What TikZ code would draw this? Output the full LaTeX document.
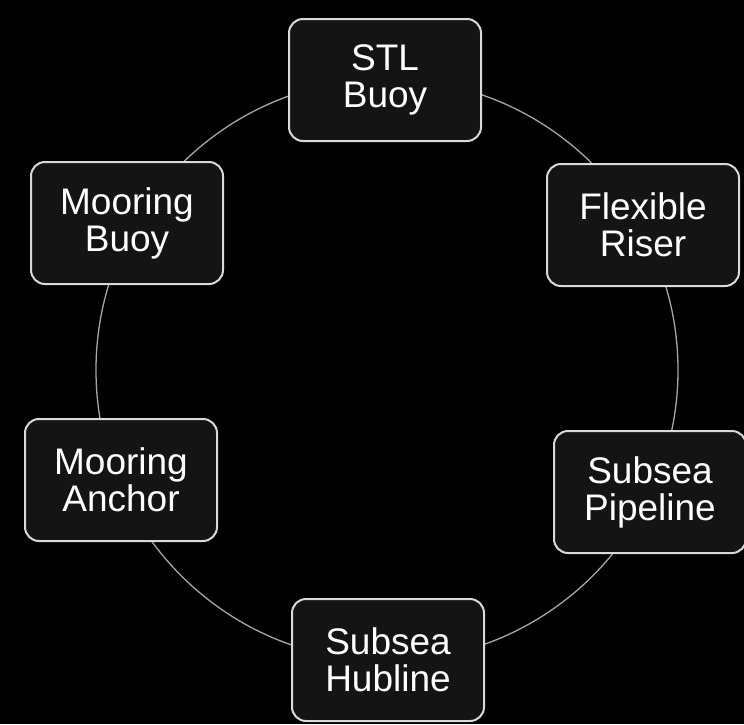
\documentclass[tikz,border=0pt]{standalone}
\usepackage{fontspec}
\setmainfont{Liberation Sans}
\begin{document}
\begin{tikzpicture}[x=1pt,y=-1pt,
  stage/.style={draw=black!15, line width=2pt, fill=black!92, rounded corners=14pt,
    minimum width=192pt, minimum height=122pt, align=center, text=white,
    font=\fontsize{37}{37}\selectfont},
  ring/.style={draw=black!35, line width=1.3pt}]
\fill[black] (0,0) rectangle (744,724);
\useasboundingbox (0,0) rectangle (744,724);
\draw[ring] (387,370) circle[radius=291];
\node[stage] (stl) at (385,80) {STL\\Buoy};
\node[stage] (riser) at (643,225) {Flexible\\Riser};
\node[stage] (pipe) at (650,492) {Subsea\\Pipeline};
\node[stage] (hub) at (388,660) {Subsea\\Hubline};
\node[stage] (anchor) at (121,480) {Mooring\\Anchor};
\node[stage] (mbuoy) at (127,223) {Mooring\\Buoy};
\end{tikzpicture}
\end{document}
